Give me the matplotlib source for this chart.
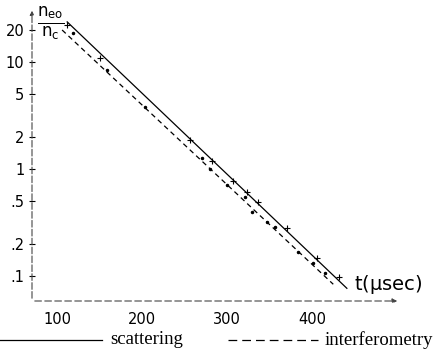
import matplotlib.pyplot as plt
from matplotlib.lines import Line2D

plt.rcParams["mathtext.default"] = "regular"

# ------------------------------------
# Data
# ------------------------------------
# fitted lines (end points, straight on log scale)
scat_fit_t = [112, 441]
scat_fit_n = [23.8, 0.077]
intf_fit_t = [106, 425]
intf_fit_n = [20.0, 0.084]

# measured points
scat_t = [112, 151, 256, 282, 307, 323, 336, 371, 406, 432]
scat_n = [22.3, 10.9, 1.87, 1.19, 0.78, 0.61, 0.49, 0.28, 0.148, 0.098]
intf_t = [119, 159, 203, 271, 280, 300, 321, 329, 347, 356, 383, 401, 415]
intf_n = [18.7, 8.45, 3.81, 1.27, 1.0, 0.71, 0.55, 0.40, 0.32, 0.29, 0.168, 0.133, 0.107]

y_ticks = [20, 10, 5, 2, 1, 0.5, 0.2, 0.1]
y_labels = ["20", "10", "5", "2", "1", ".5", ".2", ".1"]
x_ticks = [100, 200, 300, 400]
x_labels = ["100", "200", "300", "400"]

# ------------------------------------
# Figure
# ------------------------------------
fig = plt.figure(figsize=(4.36, 3.55), dpi=100)
ax = fig.add_axes([32/436, 54/355, 368/436, 293/355])
ax.set_yscale("log")
ax.set_xlim(70.6, 503.5)
ax.set_ylim(0.0586, 32.1)

ax.plot(scat_fit_t, scat_fit_n, color="black", lw=0.9)
ax.plot(intf_fit_t, intf_fit_n, color="black", lw=0.9, ls=(0, (4, 3)))
ax.plot(scat_t, scat_n, ls="none", marker="+", ms=4, mew=0.8, color="black")
ax.plot(intf_t, intf_n, ls="none", marker=".", ms=3, color="black")

for s in ax.spines.values():
    s.set_visible(False)

# axes drawn as broken lines with arrows
ax.annotate("", xy=(0, 1.0), xytext=(0, 0), xycoords="axes fraction",
            arrowprops=dict(arrowstyle="-|>", color="#444444", lw=0.8,
                            ls=(0, (6, 2)), mutation_scale=6))
ax.annotate("", xy=(1.0, 0), xytext=(0, 0), xycoords="axes fraction",
            arrowprops=dict(arrowstyle="-|>", color="#444444", lw=0.8,
                            ls=(0, (6, 3)), mutation_scale=7))

ax.set_yticks(y_ticks)
ax.set_yticklabels(y_labels)
ax.minorticks_off()
ax.tick_params(axis="y", direction="inout", length=5, width=0.8, labelsize=10.5, pad=3)
ax.set_xticks(x_ticks)
ax.set_xticklabels(x_labels)
ax.tick_params(axis="x", length=0, labelsize=10.5, pad=8)

fig.text(37/436, 1 - 23/355, r"$\frac{n_{eo}}{n_c}$", fontsize=17, va="center", ha="left")
fig.text(354/436, 1 - 285/355, r"t($\mu$sec)", fontsize=14, va="center", ha="left")

# ------------------------------------
# Legend under the plot
# ------------------------------------
ly = 15/355
fig.add_artist(Line2D([0, 102/436], [ly, ly], color="black", lw=0.9))
fig.text(110/436, ly, "scattering", family="Liberation Serif", fontsize=13.5, va="center")
fig.add_artist(Line2D([228/436, 318/436], [ly, ly], color="black", lw=0.9, ls=(0, (7, 4))))
fig.text(325/436, ly, "interferometry", family="Liberation Serif", fontsize=13.5, va="center")

fig.savefig("out.png", dpi=100)
